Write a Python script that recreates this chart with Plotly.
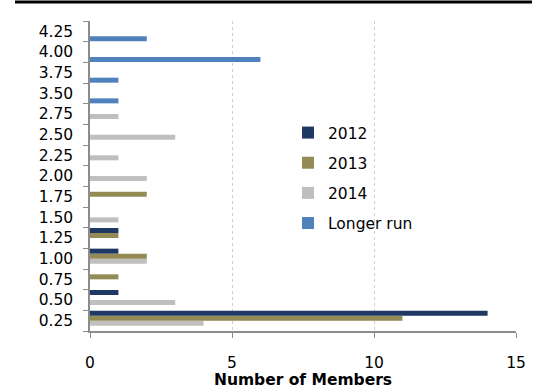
import plotly.graph_objects as go

categories = ["0.25", "0.50", "0.75", "1.00", "1.25", "1.50", "1.75", "2.00",
              "2.25", "2.50", "2.75", "3.50", "3.75", "4.00", "4.25"]
v2012 = [14, 1, 0, 1, 1, 0, 0, 0, 0, 0, 0, 0, 0, 0, 0]
v2013 = [11, 0, 1, 2, 1, 0, 2, 0, 0, 0, 0, 0, 0, 0, 0]
v2014 = [4, 3, 0, 2, 0, 1, 0, 2, 1, 3, 1, 0, 0, 0, 0]
vlong = [0, 0, 0, 0, 0, 0, 0, 0, 0, 0, 0, 1, 1, 6, 2]

series = [
    ("Longer run", vlong, "#4f81bd", 4),
    ("2014", v2014, "#bfbfbf", 3),
    ("2013", v2013, "#948a54", 2),
    ("2012", v2012, "#1f3864", 1),
]

FONT = "DejaVu Sans"
FS = 15.5
fig = go.Figure()
for name, vals, col, rank in series:
    fig.add_trace(go.Bar(
        y=categories, x=vals, name=name, orientation="h",
        marker=dict(color=col, line=dict(width=0)),
        legendgroup=name, legendrank=rank,
    ))

fig.update_layout(
    width=538, height=389,
    margin=dict(l=90, r=22, t=21, b=58, autoexpand=False),
    paper_bgcolor="white", plot_bgcolor="white",
    barmode="group", bargap=0.03, bargroupgap=0,
    font=dict(family=FONT, size=FS, color="black"),
    showlegend=True,
    legend=dict(
        x=(288 - 90) / 426, y=1 - (116 - 21) / 310, xanchor="left", yanchor="top",
        traceorder="grouped", tracegroupgap=7,
        font=dict(family=FONT, size=FS, color="black"),
        itemwidth=30, bgcolor="rgba(0,0,0,0)",
    ),
    xaxis=dict(
        range=[0, 15], tickvals=[0, 5, 10, 15], automargin=False,
        showgrid=True, gridcolor="#d0d0d0", griddash="dot", gridwidth=1,
        zeroline=False,
        showline=True, linecolor="#8c8c8c", linewidth=1.5,
        ticks="outside", ticklen=5, tickcolor="#8c8c8c",
        tickfont=dict(family=FONT, size=FS),
        ticklabelstandoff=12,
        title=dict(text="<b>Number of Members</b>", standoff=0,
                   font=dict(family=FONT, size=FS)),
    ),
    yaxis=dict(
        type="category", categoryorder="array", categoryarray=categories,
        range=[-0.5, 14.5], tickson="boundaries", automargin=False,
        showgrid=False, zeroline=False,
        showline=True, linecolor="#8c8c8c", linewidth=1.5,
        ticks="outside", ticklen=5, tickcolor="#8c8c8c",
        tickfont=dict(family=FONT, size=FS),
        ticklabelstandoff=12,
    ),
)

fig.add_shape(type="line", xref="paper", yref="paper",
              x0=-75/426, x1=(532-90)/426, y0=1 + 19/310, y1=1 + 19/310,
              line=dict(color="black", width=3))

fig.write_html("out.html")
